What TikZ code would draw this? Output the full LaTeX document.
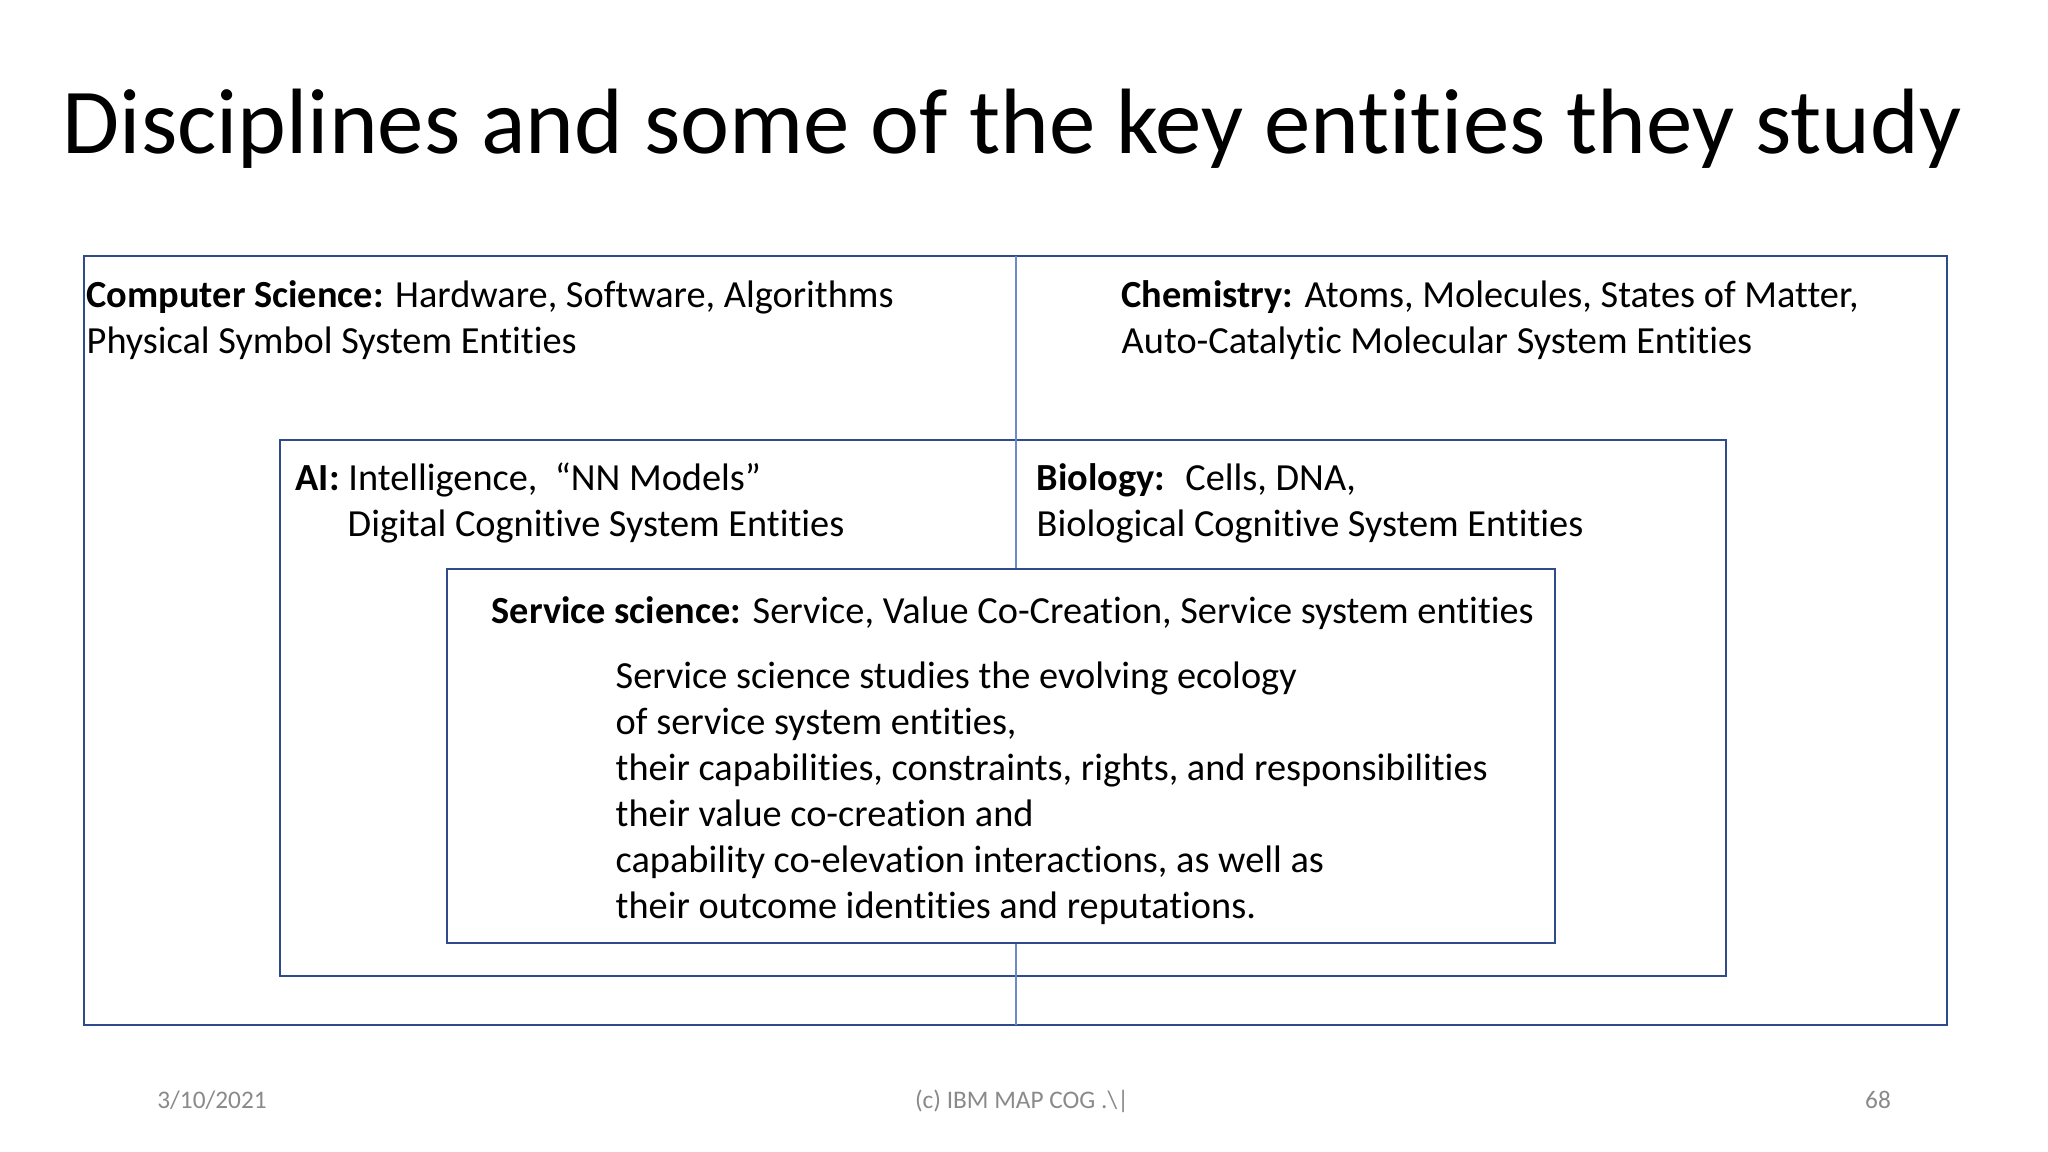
\documentclass[tikz,border=0pt]{standalone}
\usepackage{fontspec}
\setmainfont[Ligatures={TeX,NoCommon}]{Carlito}
\usetikzlibrary{positioning}
\definecolor{boxblue}{HTML}{2F4B8C}
\definecolor{lineblue}{HTML}{6A8BC6}
\definecolor{footgray}{HTML}{8A8A8A}
\tikzset{
	frame/.style={draw=boxblue, line width=0.8pt},
	entry/.style={anchor=west, inner sep=0pt, text height=7.5pt, text depth=2.5pt, font=\fontsize{10.9}{13}\selectfont},
	foot/.style={inner sep=0pt, text=footgray, text height=5pt, text depth=1.6pt, font=\fontsize{7.2}{8}\selectfont},
}

\begin{document}
\begin{tikzpicture}[x=0.01cm, y=-0.01cm]
			\useasboundingbox (0,0) rectangle (2048,1152);
			\def\midx{1016};
			
			\node[anchor=west, inner sep=0pt, font=\fontsize{26.4}{30}\selectfont] (title) at (62,129) {Disciplines and some of the key entities they study};
			
			\draw[frame] (84,256) rectangle (1947,1025);
			\draw[frame] (280,440) rectangle (1726,976);
			\coordinate (top) at (\midx,256);
			\coordinate (bottom) at (\midx,1025);
			\draw[lineblue, line width=0.4pt] (top) -- (bottom);
			\draw[frame, fill=white] (447,569) rectangle (1555,943);
			
			\node[entry] (cs1) at (86,299) {\textbf{Computer Science:} Hardware, Software, Algorithms};
			\node[entry] (cs2) at (86,345) {Physical Symbol System Entities};
			\node[entry] (chem1) at (1121,299) {\textbf{Chemistry:} Atoms, Molecules, States of Matter,};
			\node[entry] (chem2) at (1121,345) {Auto-Catalytic Molecular System Entities};
			
			\node[entry] (ai1) at (295,482) {\textbf{AI:} Intelligence,~ “NN Models”};
			\node[entry] (ai2) at (347,528) {Digital Cognitive System Entities};
			\node[entry] (bio1) at (1036,482) {\textbf{Biology:}~ Cells, DNA,};
			\node[entry] (bio2) at (1036,528) {Biological Cognitive System Entities};
			
			\node[entry] (svc) at (491,615) {\textbf{Service science:} Service, Value Co-Creation, Service system entities};
			\foreach \t [count=\i] in {{Service science studies the evolving ecology},
				{of service system entities,},
				{their capabilities, constraints, rights, and responsibilities},
				{their value co-creation and},
				{capability co-elevation interactions, as well as},
				{their outcome identities and reputations.}}
				\node[entry] (para\i) at (615,634+45.97*\i) {\t};
			
			\node[foot] (date) at (212,1103) {3/10/2021};
			\node[foot] (owner) at (1022,1103) {(c) IBM MAP COG .\textbackslash|};
			\node[foot] (page) at (1878,1103) {68};
			\end{tikzpicture}
\end{document}
